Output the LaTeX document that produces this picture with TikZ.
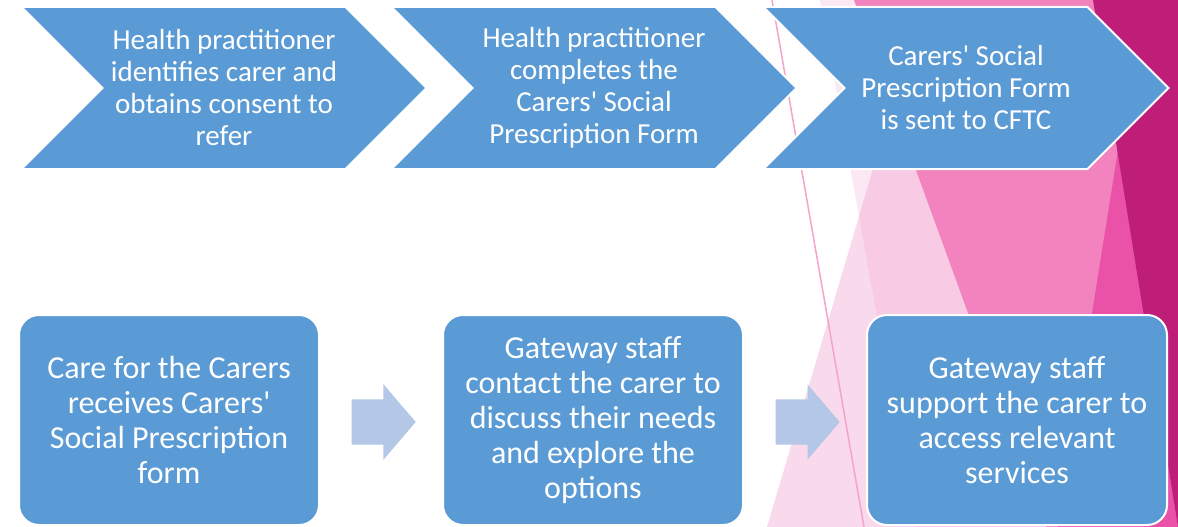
\documentclass[tikz,border=0pt]{standalone}
\usepackage{fontspec}
\setmainfont{Carlito}
\usepackage{xcolor}
\usepackage{tikz}
\usetikzlibrary{shapes.symbols, shapes.arrows, calc}

\definecolor{stepblue}{HTML}{5B9BD5}
\definecolor{arrowblue}{HTML}{B4C7E7}
\definecolor{palepink}{HTML}{FCE8F2}
\definecolor{softpink}{HTML}{F9D9EC}
\definecolor{mixpink}{HTML}{F8CAE4}
\definecolor{midpink}{HTML}{F283BE}
\definecolor{hotpink}{HTML}{EA52A8}
\definecolor{deeppink}{HTML}{BE1E78}
\definecolor{linepink}{HTML}{F5A3CD}

\begin{document}
\begin{tikzpicture}[x=1pt, y=-1pt,
    chevron/.style={signal, signal from=west, signal to=east, signal pointer angle=90,
      fill=stepblue, draw=white, line width=2pt, minimum width=405pt, minimum height=162pt,
      inner sep=0pt, text=white, align=center, font=\fontsize{29}{32}\selectfont},
    stepbox/.style={rectangle, rounded corners=20pt, fill=stepblue, draw=white, line width=2pt,
      minimum width=300pt, minimum height=210pt, text=white, align=center,
      font=\fontsize{32}{35}\selectfont},
    blockarrow/.style={single arrow, fill=arrowblue, minimum height=64pt, inner xsep=0pt,
      inner ysep=22.5pt, single arrow head extend=15pt, single arrow tip angle=99}]
      \useasboundingbox (0,0) rectangle (1178,527);
      \fill[white] (0,0) rectangle (1178,527);
      % background facets
      \fill[palepink] (820,0) -- (1178,0) -- (1178,527) -- (915,527) -- cycle;
      \fill[softpink] (767,527) -- (895,95) -- (1100,527) -- cycle;
      \begin{scope}
        \clip (820,0) -- (1178,0) -- (1178,527) -- (915,527) -- cycle;
        \fill[mixpink] (767,527) -- (895,95) -- (1100,527) -- cycle;
      \end{scope}
      \fill[midpink] (854,0) -- (1178,0) -- (1178,527) -- (1046,527) -- cycle;
      \fill[hotpink] (1118,150) -- (1058,527) -- (1178,527) -- cycle;
      \fill[deeppink] (1093,0) -- (1178,0) -- (1178,527) -- cycle;
      \draw[linepink, line width=1.5pt] (772,0) -- (864,527);
      % top row
      \node[chevron] (c1) at (224,88) {Health practitioner\\identifies carer and\\obtains consent to\\refer};
      \node[chevron] (c2) at (594,88) {Health practitioner\\completes the\\Carers\textquotesingle{} Social\\Prescription Form};
      \node[chevron] (c3) at (966,88) {Carers\textquotesingle{} Social\\Prescription Form\\is sent to CFTC};
      % bottom row
      \node[stepbox] (b1) at (169,420) {Care for the Carers\\receives Carers\textquotesingle\\Social Prescription\\form};
      \node[stepbox] (b2) at (593,420) {Gateway staff\\contact the carer to\\discuss their needs\\and explore the\\options};
      \node[stepbox] (b3) at (1017,420) {Gateway staff\\support the carer to\\access relevant\\services};
      \node[blockarrow] (a1) at ($(b1.east)!0.5!(b2.west)+(-7,2)$) {};
      \node[blockarrow] (a2) at ($(b2.east)!0.5!(b3.west)+(-7,2)$) {};
    \end{tikzpicture}
\end{document}
